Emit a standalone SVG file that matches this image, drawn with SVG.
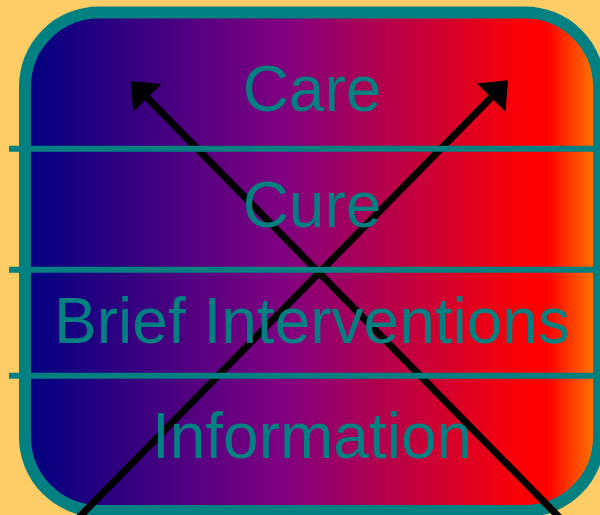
<svg xmlns="http://www.w3.org/2000/svg" width="600" height="515" viewBox="0 0 600 515">
  <style>
    .band { stroke: #008080; stroke-width: 6; fill: none; }
    .lbl { font-family: "Liberation Sans", Arial, sans-serif; font-size: 64px; fill: #008080; text-anchor: middle; }
    .arrow { stroke: #000000; stroke-width: 7; fill: none; marker-end: url(#head); }
  </style>
  <defs>
    <linearGradient id="grad" gradientUnits="userSpaceOnUse" x1="25" y1="0" x2="599" y2="0">
      <stop offset="0" stop-color="#000080"/>
      <stop offset="0.45" stop-color="#800080"/>
      <stop offset="0.88" stop-color="#FF0000"/>
      <stop offset="0.91" stop-color="#FF0000"/>
      <stop offset="1" stop-color="#FF8000"/>
    </linearGradient>
    <marker id="head" markerUnits="userSpaceOnUse" markerWidth="24" markerHeight="40" viewBox="0 0 24 40" refX="0" refY="20" orient="auto">
      <path d="M0,0 L24,20 L0,40 Z" fill="#000000"/>
    </marker>
  </defs>
  <rect x="0" y="0" width="600" height="515" fill="#FFCC66"/>
  <g id="container">
    <rect x="25" y="12.5" width="574" height="498.5" rx="74" ry="74" fill="url(#grad)" stroke="#008080" stroke-width="12"/>
  </g>
  <g id="connectors">
    <line class="arrow" x1="566.8" y1="525" x2="147.5" y2="98"/>
    <line class="arrow" x1="71.5" y1="525" x2="491.2" y2="97.5"/>
  </g>
  <g id="dividers">
    <line class="band" x1="9" y1="148.7" x2="600" y2="148.7"/>
    <line class="band" x1="9" y1="269.7" x2="600" y2="269.7"/>
    <line class="band" x1="9" y1="375.7" x2="600" y2="375.7"/>
  </g>
  <g id="care"><text class="lbl" x="312" y="111">Care</text></g>
  <g id="cure"><text class="lbl" x="312" y="227">Cure</text></g>
  <g id="brief-interventions"><text class="lbl" x="312" y="343">Brief Interventions</text></g>
  <g id="information"><text class="lbl" x="312" y="458">Information</text></g>
</svg>
